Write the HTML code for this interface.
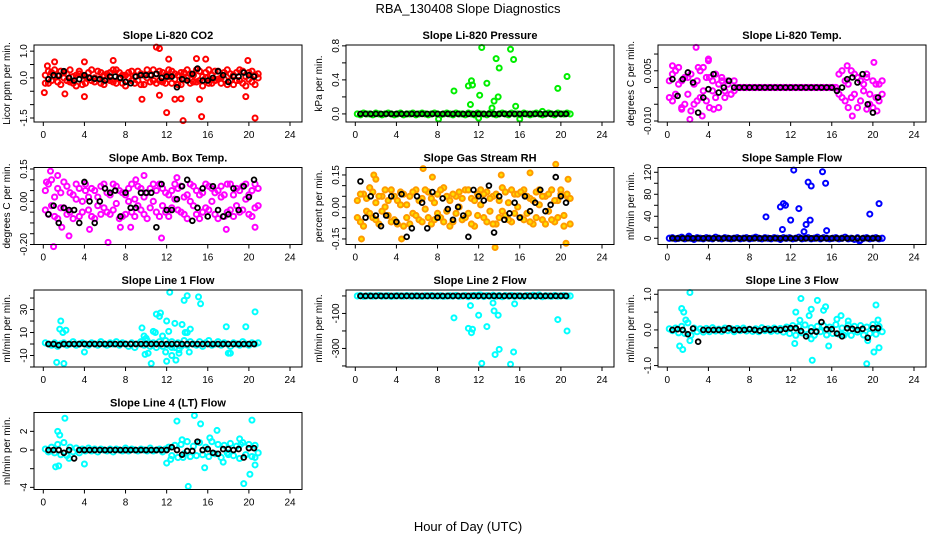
<!DOCTYPE html>
<html><head><meta charset="utf-8"><title>RBA_130408 Slope Diagnostics</title>
<style>
html,body{margin:0;padding:0;background:#fff;}
svg{display:block;font-family:"Liberation Sans",Arial,sans-serif;}
</style></head>
<body>
<svg id="chart" width="936" height="540" viewBox="0 0 936 540" xmlns="http://www.w3.org/2000/svg">
<rect x="0" y="0" width="936" height="540" fill="#fff"/>
<text x="468" y="13" font-size="13" text-anchor="middle">RBA_130408  Slope Diagnostics</text>
<text x="468" y="531" font-size="13" text-anchor="middle">Hour of Day (UTC)</text>
</svg>
<script>
const hoursC=[0.2,0.5,0.8,1.1,1.4,1.7,2.0,2.3,2.6,2.9,3.2,3.5,3.8,4.1,4.4,4.7,5.0,5.3,5.6,5.9,6.2,6.5,6.8,7.1,7.4,7.7,8.0,8.3,8.6,8.9,9.2,9.5,9.8,10.1,10.4,10.7,11.0,11.3,11.6,11.9,12.2,12.5,12.8,13.1,13.4,13.7,14.0,14.3,14.6,14.9,15.2,15.5,15.8,16.1,16.4,16.7,17.0,17.3,17.6,17.9,18.2,18.5,18.8,19.1,19.4,19.7,20.0,20.3,20.6,20.9];
const hoursK=[0.5,1.0,1.5,2.0,2.5,3.0,3.5,4.0,4.5,5.0,5.5,6.0,6.5,7.0,7.5,8.0,8.5,9.0,9.5,10.0,10.5,11.0,11.5,12.0,12.5,13.0,13.5,14.0,14.5,15.0,15.5,16.0,16.5,17.0,17.5,18.0,18.5,19.0,19.5,20.0,20.5];
const xTicks=[0,4,8,12,16,20,24];

const co2BandA=[0.1,-0.2,0.2,0.05,-0.15,0.25,0.0,-0.1,0.3,-0.2,0.1,0.15,-0.25,0.05,0.2,-0.1,0.0,0.25,-0.2,0.1,-0.05,0.2,-0.15,0.3,0.0,-0.2,0.1,0.2,-0.1,0.05,0.25,-0.25,0.1,0.0,-0.15,0.3,0.15,-0.1,0.2,-0.2,0.05,0.25,-0.05,0.1,-0.25,0.2,0.0,0.15,-0.15,0.3,-0.1,0.05,0.2,-0.2,0.1,0.25,-0.05,0.0,0.2,-0.25,0.15,0.1,-0.1,0.3,-0.2,0.05,0.2,-0.15,0.1,0.0];
const co2BandB=[-0.2,0.25,-0.1,0.3,0.1,-0.25,0.2,0.15,-0.15,0.05,-0.3,0.25,0.1,-0.2,0.0,0.3,-0.15,-0.05,0.2,-0.25,0.15,-0.1,0.3,-0.2,0.2,0.1,-0.3,0.0,0.25,-0.2,-0.1,0.15,-0.25,0.3,0.1,-0.1,-0.2,0.25,-0.15,0.1,0.3,-0.2,0.15,-0.25,0.2,-0.05,0.3,-0.2,0.1,-0.15,0.25,-0.3,0.0,0.3,-0.2,-0.1,0.25,-0.2,-0.05,0.3,-0.1,-0.25,0.2,-0.1,0.25,-0.3,-0.05,0.25,-0.25,0.15];
const co2OutH=[0.1,0.4,1.1,2.1,4.0,4.0,6.8,9.6,11.0,11.3,11.3,12.0,12.2,12.8,13.4,13.6,15.2,15.4,15.8,19.7,19.9,20.6,14.9];
const co2OutV=[-0.55,0.45,0.6,-0.6,-0.7,0.6,0.65,-0.8,1.15,1.1,-0.65,-1.3,0.7,-0.8,-0.78,-1.6,-0.8,-1.45,0.7,-0.7,0.65,-1.5,0.72];
const co2Black=[-0.05,0.1,0.08,0.25,0.0,-0.1,-0.05,0.1,0.0,-0.03,-0.05,-0.1,0.05,0.05,0.0,-0.15,-0.2,0.05,0.1,0.1,0.1,0.15,0.0,0.05,0.05,-0.35,-0.05,-0.1,0.15,0.35,-0.1,-0.1,0.0,0.25,0.1,-0.15,0.05,0.05,0.2,0.1,0.05];

const presBand=[0.0,-0.01,0.01,0.0,0.0,-0.01,0.01,0.0,-0.01,0.0,0.01,0.0,-0.01,0.0,0.01,-0.01,0.0,0.0,0.01,-0.01,0.0,0.01,0.0,-0.01,0.0,0.01,0.0,-0.01,0.0,0.01,0.0,-0.01,0.01,0.0,0.0,-0.01,0.01,0.0,-0.01,0.01,0.0,0.0,-0.01,0.01,0.0,-0.01,0.0,0.01,0.0,-0.01,0.01,0.0,0.0,-0.01,0.01,0.0,-0.01,0.0,0.01,0.0,-0.01,0.0,0.01,0.0,-0.01,0.01,0.0,0.0,0.01,0.0];
const presOutH=[8.1,9.6,11.0,11.2,11.3,11.4,12.0,12.1,12.3,12.8,13.3,13.5,13.7,13.9,14.0,15.1,15.4,15.6,16.0,18.2,19.7,20.6];
const presOutV=[-0.06,0.27,0.33,0.11,0.39,0.34,-0.05,0.22,0.78,0.36,0.07,0.15,0.65,0.2,0.54,0.76,0.64,0.09,-0.06,0.03,0.3,0.44];
const presBlack=[0,0,0,0,0,0,0,0,0,0,0,0,0,0,0,0,0,0,0,0,0,0,0,0,0,0,0,0,0,0,0,0,0,0,0,0,0,0,0,0,0];

const tempBandA=[0.002,-0.004,0.005,0.001,-0.006,0.003,-0.002,0.004,-0.005,0.002,-0.003,0.006,-0.004,0.003,-0.001,0.004,-0.006,0.002,-0.003,0.001,-0.002,0.002,0.0,0,0,0,0,0,0,0,0,0,0,0,0,0,0,0,0,0,0,0,0,0,0,0,0,0,0,0,0,0,0,0,0,0.004,-0.003,0.002,-0.006,0.005,-0.002,0.003,-0.004,0.001,0.004,-0.005,0.002,-0.003,0.001,-0.002];
const tempBandB=[-0.003,0.004,-0.002,0.006,0.002,-0.005,0.003,-0.007,0.001,-0.004,0.005,-0.001,0.003,-0.006,0.002,-0.003,0.001,0.003,-0.001,0.002,-0.002,-0.001,0.0,0,0,0,0,0,0,0,0,0,0,0,0,0,0,0,0,0,0,0,0,0,0,0,0,0,0,0,0,0,0,0,0,-0.002,0.005,-0.004,0.001,-0.003,0.004,-0.006,0.002,-0.001,0.003,-0.002,-0.006,0.001,-0.004,0.002];
const tempOutH=[2.8,4.0,4.0,2.2,3.4,4.5,18.0,20.1,19.4,20.4,1.4,3.0,0.5,17.5];
const tempOutV=[0.012,0.0085,0.008,-0.0095,-0.0085,-0.0065,-0.0085,0.0075,-0.0065,-0.007,-0.0065,0.006,0.0065,0.0065];
const tempBlack=[0.0025,-0.0025,0.0025,0.0045,0.0015,-0.0075,-0.003,-0.0005,0.004,-0.0015,0.0,0.002,0,0,0,0,0,0,0,0,0,0,0,0,0,0,0,0,0,0,0,0,-0.001,0,0.0025,0.003,0.0015,0.004,-0.005,-0.0075,-0.003];

const ambBandA=[0.05,-0.06,0.1,0.02,-0.08,0.04,-0.03,0.07,-0.05,0.03,0.08,-0.07,0.0,0.05,-0.04,0.06,-0.08,0.02,0.07,-0.03,0.04,-0.06,0.08,-0.01,0.05,-0.07,0.03,0.06,-0.05,0.01,0.07,-0.04,0.02,-0.08,0.06,0.0,-0.05,0.08,-0.02,0.04,-0.07,0.05,0.01,-0.04,0.07,-0.06,0.03,0.08,-0.02,0.05,-0.08,0.04,-0.03,0.07,0.0,-0.06,0.05,0.02,-0.07,0.08,-0.04,0.03,0.06,-0.05,0.07,0.01,-0.06,0.05,0.08,-0.02];
const ambBandB=[-0.04,0.08,-0.02,-0.07,0.06,-0.03,0.09,-0.06,0.04,-0.08,0.01,0.06,-0.05,0.08,0.02,-0.07,0.05,-0.02,-0.06,0.08,-0.05,0.03,-0.04,0.07,-0.08,0.04,-0.06,0.0,0.08,-0.07,-0.02,0.06,-0.06,0.04,-0.03,0.08,0.05,-0.07,0.06,-0.05,0.03,-0.03,0.08,0.06,-0.05,0.02,-0.08,0.0,0.07,-0.06,0.03,-0.05,0.08,-0.04,0.06,0.04,-0.08,0.07,0.03,-0.05,0.08,-0.07,-0.02,0.05,-0.04,0.08,0.03,-0.07,-0.03,0.06];
const ambOutH=[0.7,1.4,1.0,1.8,2.5,6.3,9.8,11.5,13.0,17.8,20.6,4.5,7.5,9.0,8.5,0.3];
const ambOutV=[0.14,0.12,-0.21,-0.12,-0.16,-0.19,0.12,-0.17,0.11,-0.13,-0.12,-0.13,-0.12,0.1,-0.12,0.09];
const ambBlack=[-0.06,-0.02,-0.1,-0.03,-0.04,-0.04,-0.1,0.09,0.0,-0.1,0.0,0.06,0.04,0.05,-0.07,0.04,-0.03,-0.03,0.04,0.04,0.04,-0.12,0.08,-0.04,-0.04,0.01,0.07,0.1,-0.09,-0.03,0.06,-0.07,0.07,-0.04,-0.07,-0.06,0.06,-0.04,0.07,0.02,0.1];

const rhBandA=[0.03,-0.07,0.06,-0.02,0.09,-0.05,0.02,-0.08,0.05,0.0,-0.04,0.08,-0.06,0.03,0.07,-0.09,0.01,0.05,-0.03,0.08,-0.06,0.04,-0.01,0.07,-0.08,0.02,0.06,-0.05,0.09,-0.02,0.03,-0.07,0.05,0.0,-0.06,0.08,-0.03,0.04,-0.09,0.06,0.01,-0.05,0.07,-0.02,0.05,-0.08,0.03,0.09,-0.04,0.02,-0.07,0.06,0.0,-0.05,0.08,-0.03,0.04,-0.08,0.07,0.01,-0.06,0.05,-0.02,0.08,-0.07,0.03,0.06,-0.04,0.05,-0.08];
const rhBandB=[-0.05,0.06,-0.09,0.04,-0.03,0.07,-0.06,0.05,-0.02,0.08,0.03,-0.07,0.05,-0.08,0.01,0.06,-0.05,-0.08,0.07,-0.04,0.03,-0.07,0.08,-0.05,0.04,-0.06,-0.03,0.08,-0.07,0.05,-0.09,0.06,-0.03,0.07,0.04,-0.05,0.08,-0.08,0.03,-0.04,0.08,0.06,-0.07,0.04,-0.08,0.06,-0.05,-0.02,0.07,-0.06,0.08,-0.03,0.06,0.07,-0.06,0.05,-0.07,0.03,-0.05,0.08,0.05,-0.08,0.06,-0.06,0.03,-0.05,0.08,-0.09,0.06,0.04];
const rhOutH=[0.6,4.5,6.6,13.6,19.5,17.0,20.5,1.8,7.5,14.2,20.7,2.0];
const rhOutV=[-0.15,-0.15,0.18,-0.19,0.2,0.16,-0.17,0.15,0.14,0.15,0.13,0.13];
const rhBlack=[0.12,-0.05,0.05,-0.04,-0.09,-0.04,0.05,-0.07,0.06,-0.14,-0.1,0.05,0.02,-0.1,0.07,-0.05,0.04,-0.01,-0.06,0.0,-0.04,-0.14,0.08,0.05,0.03,0.1,-0.12,0.05,-0.06,-0.03,0.02,-0.05,0.05,-0.02,0.02,0.08,-0.02,0.01,0.14,0.05,0.02];

const sfBand=[0,1,-1,0,2,-1,1,0,-2,1,0,-1,1,0,-1,2,0,-1,1,0,-1,0,1,-1,0,1,-1,0,2,0,-1,1,0,-1,1,0,-2,1,0,1,-1,0,2,-1,0,1,-1,0,2,-1,1,0,-1,0,1,-1,0,2,-1,0,-2,1,-3,0,1,-1,0,1,-1,0];
const sfOutH=[9.6,11.0,11.2,11.3,11.5,12.0,12.3,12.8,13.3,13.5,13.7,13.9,14.0,15.1,15.4,15.5,19.7,20.6,2.1,18.7];
const sfOutV=[39,57,16,63,60,33,124,54,12,25,102,33,95,121,100,14,44,63,4,-5];
const sfBlack=[0,0,0,0,0,0,0,0,0,0,0,0,0,0,0,0,0,0,0,0,0,0,0,0,0,0,0,0,0,0,0,0,0,0,0,0,0,0,0,0,0];

const l1Band=[1,0,-1,1,-2,0,1,-1,0,2,-1,0,1,0,-1,1,0,-1,2,0,-1,1,0,2,-1,1,0,-2,1,-3,0,2,-1,3,-2,1,-3,2,-2,3,-1,2,-3,1,-2,3,-1,2,0,-1,2,-2,1,3,-1,0,2,-1,1,0,-2,1,0,-1,2,0,-1,1,0,1];
const l1OutH=[1.3,1.6,1.7,1.9,2.0,2.2,4.0,9.6,9.8,9.9,10.2,10.5,10.7,10.9,11.0,11.3,11.4,11.6,11.9,12.0,12.2,12.0,12.3,12.5,12.8,12.9,13.2,13.5,13.7,14.0,14.2,15.1,15.3,14.3,17.8,18.0,18.2,19.7,20.6,13.8,14.0,10.0,12.5,13.2];
const l1OutV=[-16,13,20,10,-17,12,-7,14,7,-9,-8,-17,11,10,26,24,27,7,-7,20,11,-15,45,-10,18,-14,-8,17,38,42,-7,41,35,13,15,-8,-8,15,28,10,10,5,-3,-5];
const l1Black=[0,0,-1,0,0,0,0,0,0,0,0,0,0,0,0,0,0,0,0,0,0,0,0,0,0,0,0,0,0,0,0,0,0,0,0,0,0,0,0,0,0];

const l2Band=[0,2,-2,0,1,-1,0,2,-1,0,1,-2,0,1,0,-1,2,0,-1,1,0,-2,1,0,2,-1,0,1,-2,0,1,-1,3,-2,0,2,-4,1,3,-2,5,-3,2,-1,4,-2,3,-4,2,-1,3,-2,1,0,-3,2,-1,4,-2,5,-4,1,0,-2,3,-1,0,2,-1,0];
const l2OutH=[9.6,11.0,11.2,11.3,11.4,12.0,12.3,12.8,13.4,13.5,13.6,13.9,14.0,15.1,15.4,15.5,19.7,20.6,12.0,17.8];
const l2OutV=[-125,-185,-55,-210,-190,-110,-385,-175,-40,-85,-335,-110,-305,-390,-320,-45,-135,-200,5,5];
const l2Black=[0,0,0,0,0,0,0,0,0,0,0,0,0,0,0,0,0,0,0,0,0,0,0,0,0,0,0,0,0,0,0,0,0,0,0,0,0,0,0,0,0];

const l3Band=[0.03,-0.02,0.05,-0.08,0.1,-0.1,0.2,-0.15,0.05,-0.05,0.03,-0.06,0.04,-0.05,0.06,-0.03,0.02,-0.04,0.05,-0.02,0.03,-0.05,0.04,-0.02,0.05,-0.03,0.02,-0.04,0.03,-0.05,0.06,-0.02,0.03,-0.04,0.05,-0.03,0.04,-0.06,0.08,-0.1,0.12,-0.15,0.1,-0.08,0.14,-0.12,0.06,-0.15,0.1,-0.05,0.12,-0.14,0.08,-0.1,0.15,-0.12,0.05,-0.08,0.14,-0.15,0.1,-0.06,0.12,-0.14,0.08,-0.1,0.15,-0.12,0.1,-0.05];
const l3OutH=[1.2,1.4,1.5,1.6,1.8,2.2,2.2,12.4,12.5,13.0,12.9,13.8,14.0,14.1,14.6,15.2,15.4,15.7,16.5,16.9,17.6,19.4,19.5,20.1,20.3,20.6,20.5,17.2,14.0];
const l3OutV=[-0.45,0.6,-0.55,0.5,0.28,1.05,-0.3,-0.38,0.5,0.88,0.27,0.4,0.58,-0.85,0.83,0.55,0.65,-0.45,0.3,0.4,0.25,-0.95,-0.3,-0.62,0.7,-0.5,0.28,-0.15,-0.25];
const l3Black=[0.0,0.02,0.0,-0.12,0.04,-0.33,0.0,0.0,0.0,0.0,0.0,0.05,0.0,0.0,0.0,0.02,0.0,-0.02,0.02,0.0,0.02,0.0,0.03,0.05,0.05,-0.03,-0.18,-0.04,-0.05,0.22,0.02,0.02,-0.1,-0.18,0.05,0.03,0.0,0.03,-0.22,0.05,0.05];

const l4Band=[0.1,-0.2,0.3,-0.3,0.6,-0.5,0.8,-0.6,0.3,-0.2,0.2,-0.3,0.1,-0.1,0.2,-0.1,0.1,-0.2,0.1,0.0,-0.1,0.1,-0.2,0.1,0.0,-0.1,0.2,-0.1,0.1,0.0,-0.1,0.1,0.0,-0.1,0.2,-0.1,0.0,0.1,-0.2,0.1,0.3,-0.6,0.5,-0.8,0.6,-0.4,0.9,-0.7,0.4,-0.6,0.8,-0.5,0.3,-0.7,0.9,-0.4,0.6,-0.8,0.5,-0.3,0.7,-0.6,0.4,-0.9,0.8,-0.5,0.6,-0.7,0.5,-0.3];
const l4OutH=[1.2,1.4,1.5,1.6,2.1,2.5,4.0,12.0,12.4,13.0,13.5,13.6,14.1,14.7,15.3,15.7,16.2,16.9,17.5,19.1,19.5,20.1,20.3,20.6,20.6,19.2,18.0];
const l4OutV=[-1.8,2.0,-1.7,1.6,3.4,-0.9,-1.5,-1.4,-1.0,3.1,1.1,-0.8,-3.9,3.7,2.8,-1.9,1.3,2.1,-1.3,1.2,-3.6,-2.6,3.2,-1.6,-0.8,0.6,-0.5];
const l4Black=[0,0,0,-0.3,0,-0.9,0,0,0,0,0,0,0,0,0,0,0,0,0,0,0,0,0,0,0.3,0,-0.5,-0.1,-0.1,0.9,0,0.1,-0.3,-0.4,0.1,0.1,0,0.1,-0.8,0.2,0.2];

const panels=[
 {name:'co2',title:'Slope Li-820 CO2',ylab:'Licor ppm per min.',yTop:1.23,yBot:-1.65,ticks:[1,0.5,0,-0.5,-1,-1.5],labels:['1.0','0.0','-1.5'],labelVals:[1,0,-1.5],color:'#ff0000',bands:[co2BandA,co2BandB],outH:co2OutH,outV:co2OutV,black:co2Black},
 {name:'pressure',title:'Slope Li-820 Pressure',ylab:'kPa per min.',yTop:0.81,yBot:-0.095,ticks:[0,0.2,0.4,0.6,0.8],labels:['0.0','0.4','0.8'],labelVals:[0,0.4,0.8],color:'#00ee00',bands:[presBand],outH:presOutH,outV:presOutV,black:presBlack},
 {name:'li820-temp',title:'Slope Li-820 Temp.',ylab:'degrees C per min.',yTop:0.0127,yBot:-0.0103,ticks:[0.01,0.005,0,-0.005,-0.01],labels:['0.005','-0.010'],labelVals:[0.005,-0.01],color:'#ff00ff',bands:[tempBandA,tempBandB],outH:tempOutH,outV:tempOutV,black:tempBlack},
 {name:'amb-box-temp',title:'Slope Amb. Box Temp.',ylab:'degrees C per min.',yTop:0.157,yBot:-0.2,ticks:[0.15,0.1,0.05,0,-0.05,-0.1,-0.15,-0.2],labels:['0.15','0.00','-0.20'],labelVals:[0.15,0,-0.2],color:'#ff00ff',bands:[ambBandA,ambBandB],outH:ambOutH,outV:ambOutV,black:ambBlack},
 {name:'gas-stream-rh',title:'Slope Gas Stream RH',ylab:'percent per min.',yTop:0.185,yBot:-0.176,ticks:[0.15,0.1,0.05,0,-0.05,-0.1,-0.15],labels:['0.15','0.00','-0.15'],labelVals:[0.15,0,-0.15],color:'#ff9a00',fill:'#ffe000',bands:[rhBandA,rhBandB],outH:rhOutH,outV:rhOutV,black:rhBlack},
 {name:'sample-flow',title:'Slope Sample Flow',ylab:'ml/min per min.',yTop:128.7,yBot:-11.3,ticks:[0,20,40,60,80,100,120],labels:['0','40','80','120'],labelVals:[0,40,80,120],color:'#0000ff',bands:[sfBand],outH:sfOutH,outV:sfOutV,black:sfBlack},
 {name:'line1-flow',title:'Slope Line 1 Flow',ylab:'ml/min per min.',yTop:47,yBot:-20,ticks:[40,30,20,10,0,-10,-20],labels:['30','10','-10'],labelVals:[30,10,-10],color:'#00ffff',bands:[l1Band],outH:l1OutH,outV:l1OutV,black:l1Black},
 {name:'line2-flow',title:'Slope Line 2 Flow',ylab:'ml/min per min.',yTop:34,yBot:-406,ticks:[0,-100,-200,-300,-400],labels:['-100','-300'],labelVals:[-100,-300],color:'#00ffff',bands:[l2Band],outH:l2OutH,outV:l2OutV,black:l2Black},
 {name:'line3-flow',title:'Slope Line 3 Flow',ylab:'ml/min per min.',yTop:1.12,yBot:-1.04,ticks:[1,0.5,0,-0.5,-1],labels:['1.0','0.0','-1.0'],labelVals:[1,0,-1],color:'#00ffff',bands:[l3Band],outH:l3OutH,outV:l3OutV,black:l3Black},
 {name:'line4-flow',title:'Slope Line 4 (LT) Flow',ylab:'ml/min per min.',yTop:4.02,yBot:-4.23,ticks:[2,0,-2,-4],labels:['2','0','-4'],labelVals:[2,0,-4],color:'#00ffff',bands:[l4Band],outH:l4OutH,outV:l4OutV,black:l4Black}
];

const NS='http://www.w3.org/2000/svg';
const svg=document.getElementById('chart');
function mk(tag,attrs,parent){const e=document.createElementNS(NS,tag);for(const k in attrs)e.setAttribute(k,attrs[k]);(parent||svg).appendChild(e);return e;}

panels.forEach((p,i)=>{
  const col=i%3,row=Math.floor(i/3);
  const L=34+312*col,T=45+122.5*row,W=268,H=77;
  const x0=L+9.3,xs=(246.7)/24;
  const xScale=h=>x0+h*xs;
  const yScale=v=>T+(p.yTop-v)/(p.yTop-p.yBot)*H;
  const g=mk('g',{});
  
  
  const t=mk('text',{x:L+W/2,y:T-6,'font-size':11,'font-weight':'bold','text-anchor':'middle'},g);
  t.textContent=p.title;
  
  
  const yl=mk('text',{x:0,y:0,'font-size':10,'text-anchor':'middle',transform:`translate(${L-24},${T+H/2}) rotate(-90)`},g);
  yl.textContent=p.ylab;
  
  
  p.ticks.forEach(v=>{
    const y=yScale(v);
    const tk=mk('line',{x1:L-4,x2:L,y1:y,y2:y,stroke:'#000','stroke-width':1},g);
    
    
  });
  p.labels.forEach((lab,j)=>{
    const y=yScale(p.labelVals[j]);
    const tl=mk('text',{x:0,y:0,'font-size':10,'text-anchor':'middle',transform:`translate(${L-7},${y}) rotate(-90)`},g);
    tl.textContent=lab;
    
    
  });
  xTicks.forEach(h=>{
    const x=xScale(h);
    const tk=mk('line',{x1:x,x2:x,y1:T+H,y2:T+H+4,stroke:'#000','stroke-width':1},g);
    
    
    const tl=mk('text',{x:x,y:T+H+16,'font-size':10,'text-anchor':'middle'},g);
    tl.textContent=String(h);
    
    
  });
  const pts=mk('g',{fill:p.fill||'none',stroke:p.color,'stroke-width':2},g);
  
  
  p.bands.forEach(b=>{
    const n=Math.min(b.length,hoursC.length);
    for(let k=0;k<n;k++){
      const c=mk('circle',{cx:xScale(hoursC[k]),cy:yScale(b[k]),r:2.6},pts);
      
      
    }
  });
  const no=Math.min(p.outH.length,p.outV.length);
  for(let k=0;k<no;k++){
    const c=mk('circle',{cx:xScale(p.outH[k]),cy:yScale(p.outV[k]),r:2.5},pts);
    
    
  }
  const bk=mk('g',{fill:'none',stroke:'#000','stroke-width':1.8},g);
  
  
  const nb=Math.min(p.black.length,hoursK.length);
  for(let k=0;k<nb;k++){
    const c=mk('circle',{cx:xScale(hoursK[k]),cy:yScale(p.black[k]),r:2.4},bk);
    
    
  }
  const box=mk('rect',{x:L,y:T,width:W,height:H,fill:'none',stroke:'#000','stroke-width':1},g);
  
  
});
</script>
</body></html>
